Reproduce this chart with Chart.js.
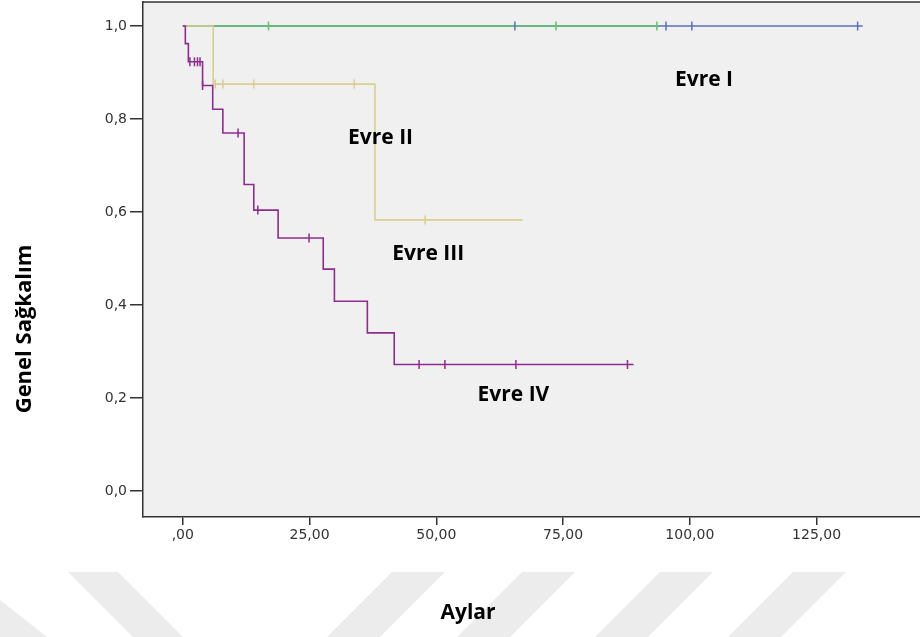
<!DOCTYPE html>
<html>
<head>
<meta charset="utf-8">
<script src="https://cdn.jsdelivr.net/npm/chart.js@4.4.0/dist/chart.umd.min.js"></script>
<style>
html, body { margin: 0; padding: 0; background: #fff; }
#wrap { position: relative; width: 920px; height: 637px; }
#wm, #c { position: absolute; left: 0; top: 0; }
</style>
</head>
<body>
<div id="wrap">
<svg id="wm" width="920" height="637">
	<g fill="#ececec">
		<polygon points="68,572 118,572 183,637 133,637"/>
		<polygon points="392,572 445,572 380,637 327,637"/>
		<polygon points="522,572 575,572 510,637 457,637"/>
		<polygon points="660,572 713,572 648,637 595,637"/>
		<polygon points="793,572 846,572 781,637 728,637"/>
		<polygon points="0,600 0,637 47,637"/>
	</g>
</svg>
<canvas id="c" width="920" height="637"></canvas>
</div>
<script>
const xTicks = [0, 25, 50, 75, 100, 125];
const yTicks = [0, 0.2, 0.4, 0.6, 0.8, 1.0];

// Evre I
const evre1Times = [0, 134.1];
const evre1Surv = [1, 1];
const evre1Censor = [65.5, 95.3, 100.4, 133.1];
// Evre II
const evre2Times = [0, 93.5];
const evre2Surv = [1, 1];
const evre2Censor = [16.9, 73.6, 93.5];
// Evre III
const evre3Times = [0, 6.0, 37.9, 67.0];
const evre3Surv = [1, 0.875, 0.583, 0.583];
const evre3Censor = [6.4, 7.9, 14.0, 33.8, 47.8];
// Evre IV
const evre4Times = [0, 0.5, 1.1, 3.9, 5.9, 7.9, 12.1, 14.0, 18.8, 27.7, 29.9, 36.4, 41.7, 88.9];
const evre4Surv = [1, 0.962, 0.923, 0.872, 0.821, 0.770, 0.659, 0.604, 0.544, 0.477, 0.408, 0.340, 0.272, 0.272];
const evre4Censor = [1.4, 2.3, 2.9, 3.4, 3.9, 10.9, 14.8, 24.9, 46.6, 51.7, 65.7, 87.7];

// group labels: [text, x (months), y (survival)]
const groupLabels = [
	['Evre I', 102.8, 0.884],
	['Evre II', 39.0, 0.759],
	['Evre III', 48.4, 0.510],
	['Evre IV', 65.2, 0.206],
];

const colors = {
	evre1: 'rgb(92, 112, 190)',
	evre2: 'rgb(96, 198, 106)',
	evre3: 'rgb(214, 208, 140)',
	evre4: 'rgb(142, 44, 142)',
};

const toPoints = (times, surv) => times.map((t, i) => ({x: t, y: surv[i]}));

const survAt = (times, surv, t) => {
	let s = surv[0];
	for (let i = 0; i < times.length; ++i) {
		if (times[i] <= t) s = surv[i];
	}
	return s;
};

const censorPoints = (censor, times, surv) => censor.map((t) => ({x: t, y: survAt(times, surv, t)}));

const curve = (data, color, order) => ({
	data,
	borderColor: color,
	borderWidth: 1.6,
	stepped: 'before',
	pointRadius: 0,
	fill: false,
	order,
});

const ticks = (data, color) => ({
	data,
	showLine: false,
	borderColor: color,
	borderWidth: 1.5,
	pointStyle: 'line',
	rotation: 90,
	pointRadius: 4.5,
	order: 0,
});

const backgroundPlugin = {
	id: 'plotBackground',
	beforeDraw(chart) {
		const {ctx, chartArea: a} = chart;
		ctx.save();
		ctx.fillStyle = '#f0f0f0';
		ctx.fillRect(a.left, a.top, a.right - a.left, a.bottom - a.top);
		ctx.restore();
	},
	afterDraw(chart) {
		const {ctx, chartArea: a, scales} = chart;
		ctx.save();
		ctx.strokeStyle = '#333';
		ctx.lineWidth = 1.5;
		ctx.beginPath();
		ctx.moveTo(a.left, a.top);
		ctx.lineTo(a.right, a.top);
		ctx.stroke();

		ctx.fillStyle = '#000';
		ctx.textAlign = 'center';
		ctx.textBaseline = 'middle';
		ctx.font = '700 21px "Open Sans"';
		for (const [text, x, y] of groupLabels) {
			ctx.fillText(text, scales.x.getPixelForValue(x), scales.y.getPixelForValue(y));
		}
		ctx.fillText('Aylar', 468, 613);
		ctx.translate(25, 329);
		ctx.rotate(-Math.PI / 2);
		ctx.font = '700 22px "Open Sans"';
		ctx.fillText('Genel Sağkalım', 0, 0);
		ctx.restore();
	},
};

const tickFont = {family: '"DejaVu Sans"', size: 14};

new Chart(document.getElementById('c'), {
	type: 'line',
	data: {
		datasets: [
			ticks(censorPoints(evre4Censor, evre4Times, evre4Surv), colors.evre4),
			ticks(censorPoints(evre3Censor, evre3Times, evre3Surv), colors.evre3),
			ticks(censorPoints(evre2Censor, evre2Times, evre2Surv), colors.evre2),
			ticks(censorPoints(evre1Censor, evre1Times, evre1Surv), colors.evre1),
			curve(toPoints(evre4Times, evre4Surv), colors.evre4, 1),
			curve(toPoints(evre3Times, evre3Surv), colors.evre3, 2),
			curve(toPoints(evre2Times, evre2Surv), colors.evre2, 3),
			curve(toPoints(evre1Times, evre1Surv), colors.evre1, 4),
		],
	},
	options: {
		responsive: false,
		animation: false,
		layout: {autoPadding: false, padding: {top: 2, right: 0, bottom: 0, left: 0}},
		plugins: {
			legend: {display: false},
			tooltip: {enabled: false},
		},
		scales: {
			x: {
				type: 'linear',
				min: -7.85,
				max: 145.4,
				afterBuildTicks: (scale) => { scale.ticks = xTicks.map((v) => ({value: v})); },
				afterFit: (scale) => {
					scale.height = 120;
					scale.paddingLeft = 0;
					scale.paddingRight = 0;
				},
				ticks: {
					font: tickFont,
					color: '#333',
					padding: 2,
					maxRotation: 0,
					callback: (v) => v === 0 ? ',00' : v.toFixed(2).replace('.', ','),
				},
				grid: {drawOnChartArea: false, drawTicks: true, tickLength: 8, color: '#333', lineWidth: 1.5},
				border: {display: true, color: '#333', width: 1.5},
			},
			y: {
				min: -0.056,
				max: 1.0516,
				afterBuildTicks: (scale) => { scale.ticks = yTicks.map((v) => ({value: v})); },
				afterFit: (scale) => {
					scale.width = 143;
					scale.paddingTop = 0;
					scale.paddingBottom = 0;
				},
				ticks: {
					font: tickFont,
					color: '#333',
					padding: 3,
					callback: (v) => v.toFixed(1).replace('.', ','),
				},
				grid: {drawOnChartArea: false, drawTicks: true, tickLength: 13, color: '#333', lineWidth: 1.5},
				border: {display: true, color: '#333', width: 1.5},
			},
		},
	},
	plugins: [backgroundPlugin],
});
</script>
</body>
</html>
